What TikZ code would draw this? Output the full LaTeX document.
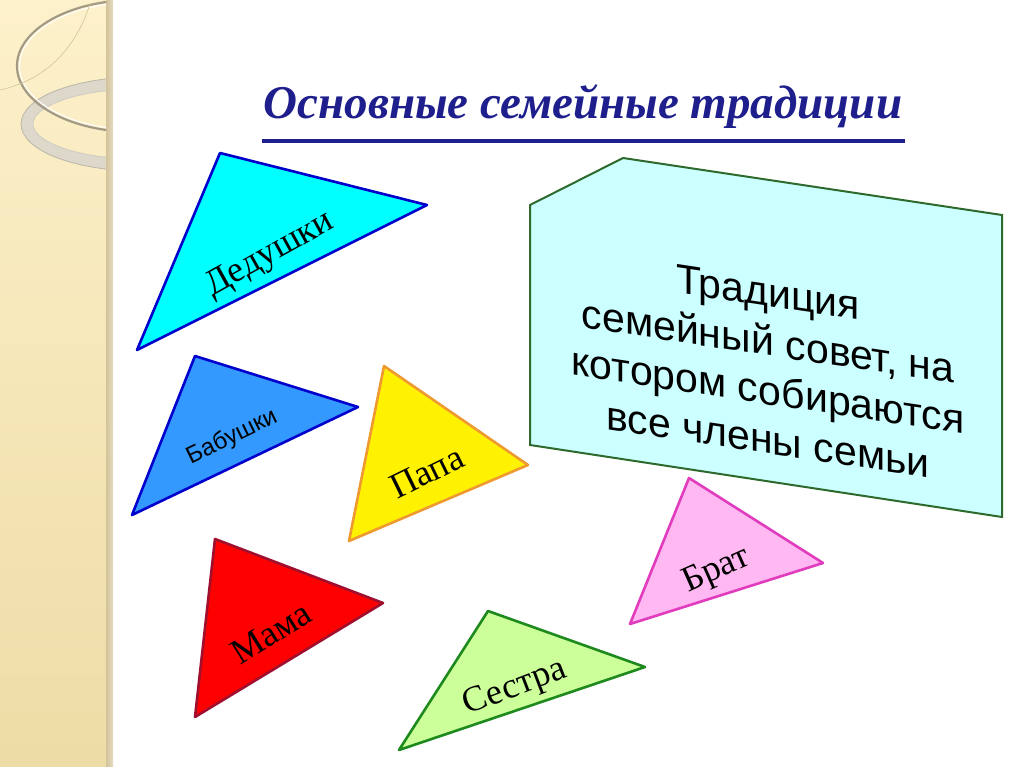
\documentclass[tikz,border=0pt]{standalone}
\usepackage{fontspec}
\setmainfont{Liberation Serif}
\setsansfont{Liberation Sans}
\definecolor{stripTop}{HTML}{FDF1CB}
\definecolor{stripBot}{HTML}{EEDCA6}
\definecolor{stripEdge}{HTML}{D3C399}
\definecolor{ringGray}{HTML}{DDD8CA}
\definecolor{ringLine}{HTML}{A39A86}
\definecolor{titleBlue}{HTML}{1E1E8C}
\definecolor{edgeBlue}{HTML}{0000CC}
\definecolor{aquaFill}{HTML}{00FFFF}
\definecolor{skyBlue}{HTML}{3399FF}
\definecolor{edgeOrange}{HTML}{EE9A30}
\definecolor{edgeWine}{HTML}{A0102E}
\definecolor{leafGreen}{HTML}{CCFF99}
\definecolor{edgeGreen}{HTML}{1E8A1E}
\definecolor{pinkFill}{HTML}{FFB8F2}
\definecolor{edgePink}{HTML}{E23CBE}
\definecolor{boxFill}{HTML}{CCFFFF}
\definecolor{boxLine}{HTML}{2E6A2E}
\begin{document}
\begin{tikzpicture}[x=1pt,y=-1pt,
    tri/.style={line width=2.6pt, line join=round},
    word/.style={font=\fontsize{36}{40}\selectfont, inner sep=0pt}]
    \useasboundingbox (0,0) rectangle (1024,767);
    \fill[white] (0,0) rectangle (1024,767);
    % left strip
    \shade[top color=stripTop, bottom color=stripBot] (0,0) rectangle (107,767);
    \shade[left color=stripEdge, right color=stripEdge!60!white] (106,0) rectangle (113,767);
    \begin{scope}
        \clip (0,0) rectangle (106,767);
        \draw[ringGray, line width=12pt] (140,124) ellipse (113 and 41);
        \draw[ringLine!70, line width=0.8pt] (140,124) ellipse (119 and 47);
        \draw[ringLine!50, line width=0.8pt] (140,124) ellipse (107 and 35);
        \draw[ringLine, line width=2.2pt] (135,66) ellipse (118 and 66);
        \draw[white, line width=1pt] (135,66) ellipse (115.5 and 63.5);
        \draw[stripEdge, line width=0.6pt] (90,4) .. controls (75,50) and (45,80) .. (0,90);
    \end{scope}
    % title
    \node[anchor=base, text=titleBlue, inner sep=0pt,
        font=\bfseries\itshape\fontsize{47}{50}\selectfont] (title) at (583,119) {Основные семейные традиции};
    \draw[titleBlue, line width=3.5pt] (262,141) -- (905,141);
    % triangles
    \filldraw[tri, fill=aquaFill, draw=edgeBlue] (220,153) -- (427,205) -- (137,350) -- cycle;
    \filldraw[tri, fill=skyBlue, draw=edgeBlue] (195,356) -- (358,407) -- (132,515) -- cycle;
    \filldraw[tri, fill=yellow, draw=edgeOrange] (384,366) -- (528,465) -- (349,541) -- cycle;
    \filldraw[tri, fill=red, draw=edgeWine] (215,539) -- (383,603) -- (195,717) -- cycle;
    \filldraw[tri, fill=leafGreen, draw=edgeGreen] (488,611) -- (645,667) -- (399,750) -- cycle;
    \filldraw[tri, fill=pinkFill, draw=edgePink] (689,478) -- (823,563) -- (630,624) -- cycle;
    \node[word, rotate=29] (grandpa) at (270,255) {Дедушки};
    \node[word, rotate=26, font=\sffamily\fontsize{24}{28}\selectfont] (grandma) at (232,437) {Бабушки};
    \node[word, rotate=26] (dad) at (427,472) {Папа};
    \node[word, rotate=32] (mom) at (271,633) {Мама};
    \node[word, rotate=21] (sister) at (515,688) {Сестра};
    \node[word, rotate=24] (brother) at (717,571) {Брат};
    % council box
    \filldraw[fill=boxFill, draw=boxLine, line width=2pt] (530,205) -- (623,158) -- (1002,215) -- (1002,517) -- (530,445) -- cycle;
    \node[align=center, yslant=-0.15, inner sep=0pt,
        font=\sffamily\fontsize{41}{49}\selectfont] (council) at (768,366)
        {Традиция\\семейный совет, на\\котором собираются\\все члены семьи};
\end{tikzpicture}
\end{document}
